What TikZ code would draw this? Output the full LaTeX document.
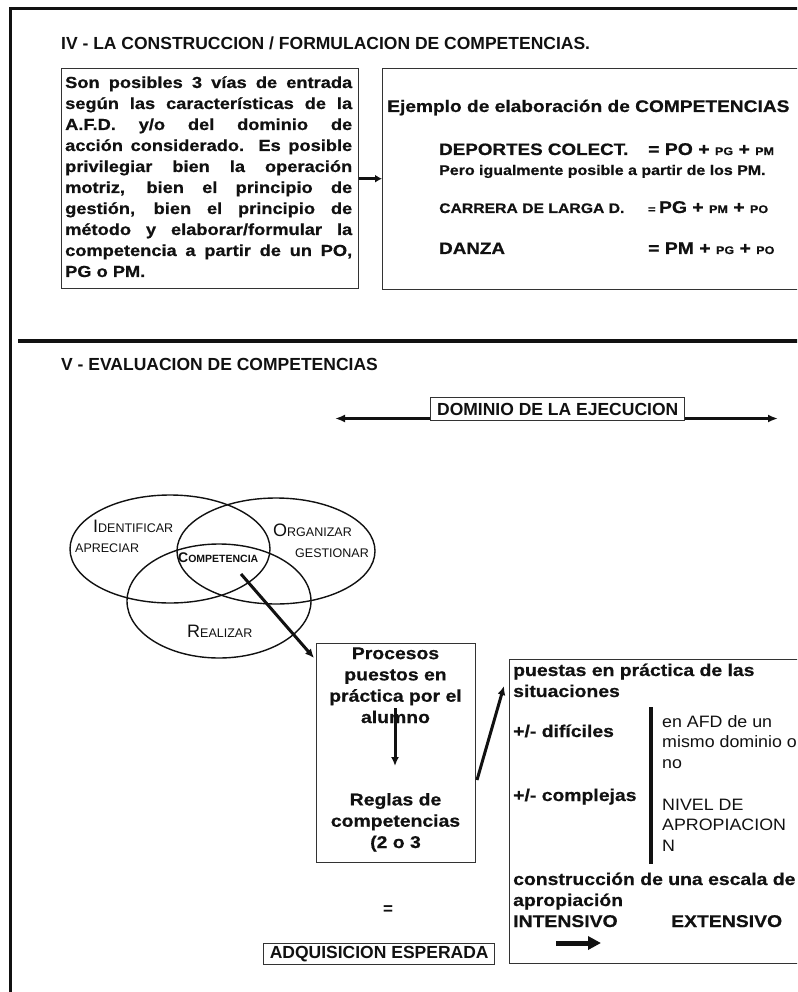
\documentclass[tikz,border=0pt]{standalone}
\usepackage{fontspec}
\setmainfont{Liberation Sans}
\newfontfamily\widefont{Liberation Sans}[FakeStretch=1.14,BoldFeatures={FakeBold=0.6}]
\newfontfamily\midfont{Liberation Sans}[FakeStretch=1.08]
\usetikzlibrary{arrows.meta,shapes.geometric}
\newcommand\fsz[2]{\fontsize{#1}{#2}\selectfont}
\definecolor{ink}{HTML}{111111}
\definecolor{boxline}{HTML}{333333}
\begin{document}
\begin{tikzpicture}[x=1pt,y=-1pt,
  box/.style={draw=boxline,line width=1.4pt,inner sep=0pt},
  txt/.style={anchor=base west,inner sep=0pt,text=ink},
  ctxt/.style={anchor=base,inner sep=0pt,text=ink,align=center},
  arr/.style={draw=ink,line width=3pt,-{Latex[length=9pt,width=8pt]}},
  darr/.style={draw=ink,line width=3.5pt,-{Latex[length=10pt,width=8pt]}},
  venn/.style={ellipse,draw=ink,line width=1.4pt,inner sep=0pt}]
\useasboundingbox (0,0) rectangle (797,992);
\fill[white] (0,0) rectangle (797,992);
\begin{scope}
\clip (0,0) rectangle (797,992);
% frame
\draw[ink,line width=3pt] (10,992) -- (10,9) -- (800,9);
\draw[ink,line width=4pt] (18,341) -- (800,341);

% ---------- section IV
\node[txt,font=\bfseries\fsz{17.5}{17.5}] (t4) at (61,50) {IV - LA CONSTRUCCION / FORMULACION DE COMPETENCIAS.};

\node[box,anchor=north west,minimum width=297pt,minimum height=220pt] (lbox) at (61,68) {};
\node[txt,text width=287pt,align=justify,font=\widefont\bfseries\fsz{16}{21}] (ltext) at (65,88)
 {Son posibles 3 vías de entrada\linebreak
  según las características de la\linebreak
  A.F.D. y/o del dominio de\linebreak
  acción considerado. Es posible\linebreak
  privilegiar bien la operación\linebreak
  motriz, bien el principio de\linebreak
  gestión, bien el principio de\linebreak
  método y elaborar/formular la\linebreak
  competencia a partir de un PO,\linebreak
  PG o PM.};

\node[box,anchor=north west,minimum width=440pt,minimum height=221pt] (rbox) at (382,68) {};
\draw[darr,-{Latex[length=7pt,width=8pt]}] (lbox.east) -- (lbox.east -| rbox.west);

\node[txt,font=\widefont\bfseries\fsz{16.8}{16.8}] (ej) at (387,112) {Ejemplo de elaboración de COMPETENCIAS};
\node[txt,font=\widefont\bfseries\fsz{16.5}{16.5}] (dep) at (439,155) {DEPORTES COLECT.};
\node[txt,font=\widefont\bfseries] (depf) at (648,155) {\fsz{17}{17}= PO + \fsz{11}{11}PG\fsz{17}{17} + \fsz{11}{11}PM};
\node[txt,font=\widefont\bfseries\fsz{14}{14}] (pero) at (439,175) {Pero igualmente posible a partir de los PM.};
\node[txt,font=\widefont\bfseries\fsz{13.8}{13.8}] (car) at (439,213) {CARRERA DE LARGA D.};
\node[txt,font=\widefont\bfseries] (carf) at (648,213) {\fsz{11}{11}= \fsz{17}{17}PG + \fsz{11}{11}PM\fsz{17}{17} + \fsz{11}{11}PO};
\node[txt,font=\widefont\bfseries\fsz{16.5}{16.5}] (dan) at (439,254) {DANZA};
\node[txt,font=\widefont\bfseries] (danf) at (648,254) {\fsz{17}{17}= PM + \fsz{11}{11}PG\fsz{17}{17} + \fsz{11}{11}PO};

% ---------- section V
\node[txt,font=\bfseries\fsz{17.5}{17.5}] (t5) at (61,370) {V - EVALUACION DE COMPETENCIAS};

\node[box,anchor=north west,minimum width=254pt,minimum height=23pt,text=ink,font=\bfseries\fsz{17.5}{17.5}] (dom) at (430,397) {DOMINIO DE LA EJECUCION};
\coordinate (dl) at (335,418.5);
\coordinate (dr) at (778,418.5);
\draw[darr] (dom.west |- dl) -- (dl);
\draw[darr] (dom.east |- dr) -- (dr);

% venn
\node[venn,minimum width=200pt,minimum height=108pt] (e1) at (170,549) {};
\node[venn,minimum width=198pt,minimum height=106pt] (e2) at (276,551) {};
\node[venn,minimum width=184pt,minimum height=114pt] (e3) at (219,601) {};
\node[txt] (l1) at (93,532) {\fsz{18}{18}I\fsz{12.5}{12.5}DENTIFICAR};
\node[txt] (l2) at (75,552) {\fsz{12.5}{12.5}APRECIAR};
\node[txt,font=\bfseries] (comp) at (178,562) {\fsz{14}{14}C\fsz{10.5}{10.5}OMPETENCIA};
\node[txt] (l3) at (273,536) {\fsz{18}{18}O\fsz{12.5}{12.5}RGANIZAR};
\node[txt] (l4) at (295,557) {\fsz{12.5}{12.5}GESTIONAR};
\node[txt] (l5) at (187,637) {\fsz{18}{18}R\fsz{12.5}{12.5}EALIZAR};

% procesos box
\node[box,anchor=north west,minimum width=159pt,minimum height=219pt] (proc) at (316,643) {};
\node[ctxt,font=\widefont\bfseries\fsz{17}{21.3}] (ptop) at (395.5,723) {Procesos\\puestos en\\práctica por el\\alumno};
\node[ctxt,font=\widefont\bfseries\fsz{17}{21.3}] (pbot) at (395.5,848) {Reglas de\\competencias\\(2 o 3};
\coordinate (ia) at (395,708);
\coordinate (ib) at (395,766);
\draw[arr] (ia) -- (ib);
\coordinate (ca) at (241,574);
\coordinate (cb) at (314,658);
\draw[arr] (ca) -- (cb);

% situaciones box
\node[box,anchor=north west,minimum width=300pt,minimum height=304pt] (sbox) at (509,659) {};
\coordinate (pa) at (477,780);
\coordinate (pb) at (504,686);
\draw[arr] (pa) -- (pb);

\node[txt,font=\widefont\bfseries\fsz{17}{17}] (s1) at (513,676) {puestas en práctica de las};
\node[txt,font=\widefont\bfseries\fsz{17}{17}] (s2) at (513,697) {situaciones};
\node[txt,font=\widefont\bfseries\fsz{17}{17}] (s3) at (513,737) {+/- difíciles};
\node[txt,font=\widefont\bfseries\fsz{17}{17}] (s4) at (513,801) {+/- complejas};
\draw[ink,line width=4pt] (651,707) -- (651,864);
\node[txt,font=\midfont\fsz{16.5}{21}] (r1) at (662,727) {en AFD de un};
\node[txt,font=\midfont\fsz{16.5}{21}] (r2) at (662,747) {mismo dominio o};
\node[txt,font=\midfont\fsz{16.5}{21}] (r3) at (662,768) {no};
\node[txt,font=\midfont\fsz{16.5}{21}] (r4) at (662,810) {NIVEL DE};
\node[txt,font=\midfont\fsz{16.5}{21}] (r5) at (662,830) {APROPIACION};
\node[txt,font=\midfont\fsz{16.5}{21}] (r6) at (662,851) {N};
\node[txt,font=\widefont\bfseries\fsz{17}{17}] (s5) at (513,885) {construcción de una escala de};
\node[txt,font=\widefont\bfseries\fsz{17}{17}] (s6) at (513,906) {apropiación};
\node[txt,font=\widefont\bfseries\fsz{17}{17}] (s7) at (513,927) {INTENSIVO};
\node[txt,font=\widefont\bfseries\fsz{17}{17}] (s8) at (671,927) {EXTENSIVO};
\coordinate (ka) at (556,943);
\coordinate (kb) at (601,943);
\draw[ink,line width=5pt,-{Triangle[length=13pt,width=13pt]}] (ka) -- (kb);

\node[ctxt,font=\bfseries\fsz{17}{17}] (eq) at (388,914) {=};
\node[box,anchor=north west,minimum width=231pt,minimum height=21pt,text=ink,font=\bfseries\fsz{17.5}{17.5}] (adq) at (263,943) {ADQUISICION ESPERADA};
\end{scope}
\end{tikzpicture}
\end{document}
